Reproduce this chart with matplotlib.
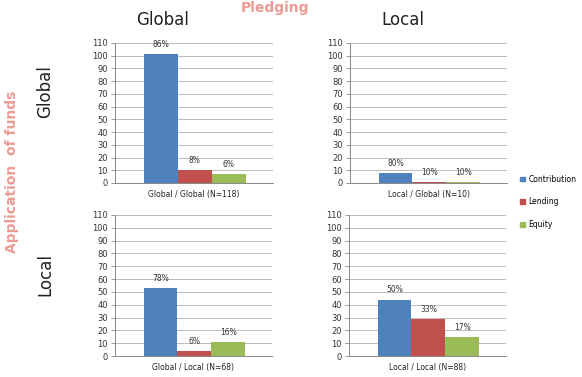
import matplotlib
matplotlib.use("Agg")
import matplotlib.pyplot as plt
import numpy as np

series = ["Contribution", "Lending", "Equity"]
colors = ["#4F81BD", "#C0504D", "#9BBB59"]

panel_labels = ["Global / Global (N=118)", "Local / Global (N=10)",
                "Global / Local (N=68)", "Local / Local (N=88)"]
gg_values = [101, 10, 7]
lg_values = [8, 1, 1]
gl_values = [53, 4, 11]
ll_values = [44, 29, 15]
gg_pct = ["86%", "8%", "6%"]
lg_pct = ["80%", "10%", "10%"]
gl_pct = ["78%", "6%", "16%"]
ll_pct = ["50%", "33%", "17%"]

yticks = list(range(0, 111, 10))

fig = plt.figure(figsize=(5.82, 3.77), dpi=100)
fig.patch.set_facecolor("white")

W, H = 582, 377
def rect(l, t, r, b):
    return [l / W, 1 - b / H, (r - l) / W, (b - t) / H]

axes_rects = [rect(115, 43, 273, 183), rect(350, 43, 507, 183),
              rect(115, 215, 272, 356), rect(349, 215, 506, 356)]
all_vals = [gg_values, lg_values, gl_values, ll_values]
all_pct = [gg_pct, lg_pct, gl_pct, ll_pct]

font = "DejaVu Sans"
for r, vals, pcts, lab in zip(axes_rects, all_vals, all_pct, panel_labels):
    ax = fig.add_axes(r)
    x = np.arange(3)
    ax.bar(x, vals, width=1.0, color=colors, label=series, zorder=3)
    for xi, v, p in zip(x, vals, pcts):
        ax.text(xi, v + 4, p, ha="center", va="bottom", fontsize=5.5,
                color="#333333", family=font)
    ax.set_xlim(-1.35, 3.3)
    ax.set_ylim(0, 110)
    ax.set_yticks(yticks)
    ax.tick_params(axis="y", labelsize=6, length=3, color="#888888",
                   labelcolor="#333333", pad=2, width=0.6)
    ax.set_xticks([])
    ax.grid(axis="y", color="#BBBBBB", linewidth=0.7, zorder=0)
    for s in ["top", "right"]:
        ax.spines[s].set_visible(False)
    ax.spines["left"].set_color("#888888")
    ax.spines["bottom"].set_color("#888888")
    ax.spines["left"].set_linewidth(0.7)
    ax.spines["bottom"].set_linewidth(0.7)
    ax.set_xlabel(lab, fontsize=5.5, color="#222222", labelpad=5)

fig.text(163 / W, 1 - 20 / H, "Global", fontsize=12, ha="center", va="center", color="#222222")
fig.text(403 / W, 1 - 20 / H, "Local", fontsize=12, ha="center", va="center", color="#222222")
fig.text(275 / W, 1 - 1 / H, "Pledging", fontsize=10, ha="center", va="top",
         color="#EC9C94", fontweight="bold")
fig.text(12 / W, 1 - 172 / H, "Application  of funds", fontsize=10, ha="center",
         va="center", rotation=90, color="#EC9C94", fontweight="bold")
fig.text(45 / W, 1 - 92 / H, "Global", fontsize=12, ha="center", va="center",
         rotation=90, color="#222222")
fig.text(45 / W, 1 - 275 / H, "Local", fontsize=12, ha="center", va="center",
         rotation=90, color="#222222")

handles = [plt.Rectangle((0, 0), 1, 1, color=c) for c in colors]
fig.legend(handles, series, loc="center left", bbox_to_anchor=(520 / W, 1 - 202 / H),
           frameon=False, fontsize=5.5, handlelength=0.6, handleheight=0.6,
           labelspacing=1.8, handletextpad=0.5, borderpad=0, borderaxespad=0)

fig.savefig("out.png", dpi=100, facecolor="white")
